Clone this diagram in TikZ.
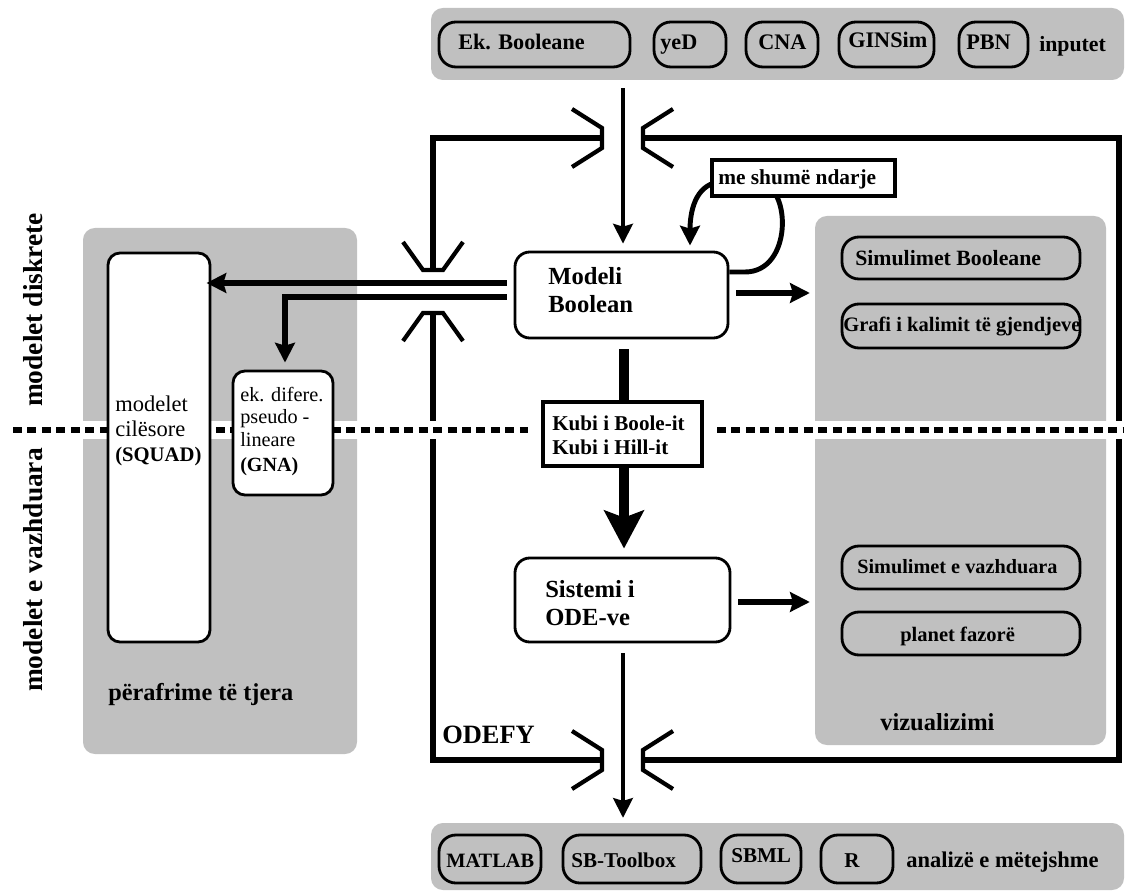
\documentclass[tikz,border=0pt]{standalone}
\usepackage{fontspec}
\setmainfont{Liberation Serif}
\usetikzlibrary{arrows.meta,fit}
\definecolor{panelgray}{RGB}{192,192,192}
\newcommand\fz[1]{\fontsize{#1}{#1}\selectfont}

\begin{document}
\begin{tikzpicture}[x=0.025cm,y=-0.025cm,
  panel/.style={fill=panelgray, draw=none, rounded corners=8.5pt, inner sep=0pt},
  pill/.style={draw=black, line width=2pt, rounded corners=12pt, inner sep=0pt},
  box/.style={draw=black, fill=white, line width=2pt, rounded corners=10.5pt, inner sep=0pt},
  smallbox/.style={box, rounded corners=8.5pt},
  sqbox/.style={draw=black, fill=white, line width=2.3pt, inner sep=0pt},
  txt/.style={inner sep=0pt, anchor=base west, font=\bfseries},
  rtxt/.style={inner sep=0pt, anchor=base west},
  frameline/.style={line width=4.6pt, line join=miter},
  bracket/.style={line width=3pt, line join=miter},
  tip/.tip={Stealth[length=14pt,width=14pt,inset=2pt]},
  bigtip/.tip={Stealth[length=27pt,width=28pt,inset=5pt]},
  thinarrow/.style={line width=2.6pt, -tip},
  midarrow/.style={line width=3.8pt, -tip},
  heavy/.style={line width=7.8pt},
]
\useasboundingbox (0,0) rectangle (1126,892);
\fill[white] (0,0) rectangle (1126,892);

% helper coordinates
\coordinate (cx) at (623,0);
\coordinate (cx2) at (624,0);
\coordinate (y283) at (0,283);
\coordinate (y297) at (0,297);
\coordinate (y293) at (0,293);
\coordinate (y602) at (0,602);
\coordinate (gx) at (285,0);
\coordinate (ly) at (0,272);
\coordinate (lx) at (690,0);

% grey panels
\node[panel, fit={(431,8) (1124,80)}] (tp) {};
\node[panel, fit={(431,823) (1124,890)}] (bp) {};
\node[panel, fit={(83,228) (357,754)}] (lp) {};
\node[panel, fit={(815,216) (1106,745)}] (rp) {};

% ODEFY frame
\draw[frameline] (602,138) -- (433,138) -- (433,270);
\draw[frameline] (433,313) -- (433,760) -- (602,760);
\draw[frameline] (643,760) -- (1119,760) -- (1119,138) -- (643,138);
% crossings
\draw[bracket] (572,109) -- (602,128) -- (602,148) -- (572,167);
\draw[bracket] (673,109) -- (643,128) -- (643,148) -- (673,167);
\draw[bracket] (572,731) -- (602,750) -- (602,770) -- (572,789);
\draw[bracket] (673,731) -- (643,750) -- (643,770) -- (673,789);
\draw[bracket] (403,242) -- (423,270) -- (443,270) -- (463,242);
\draw[bracket] (403,341) -- (423,313) -- (443,313) -- (463,341);

% discrete / continuous divider
\fill[white] (0,421) rectangle (1126,439);
\draw[line width=3.9pt, dash pattern=on 6.4pt off 3.9pt] (13,430) -- (528,430);
\draw[line width=3.9pt, dash pattern=on 6.4pt off 3.9pt] (717,430) -- (1124,430);

% input pills
\node[pill, fit={(439,22) (630,67)}] (p1) {};
\node[pill, fit={(654,22) (726,67)}] (p2) {};
\node[pill, fit={(746,22) (818,67)}] (p3) {};
\node[pill, fit={(839,22) (934,67)}] (p4) {};
\node[pill, fit={(959,22) (1028,67)}] (p5) {};
% output pills
\node[pill, fit={(439,835) (541,883)}] (q1) {};
\node[pill, fit={(563,835) (701,883)}] (q2) {};
\node[pill, fit={(721,835) (801,883)}] (q3) {};
\node[pill, fit={(821,835) (893,883)}] (q4) {};
% visualisation pills
\node[pill, fit={(842,237) (1080,279)}] (r1) {};
\node[pill, fit={(842,304) (1080,348)}] (r2) {};
\node[pill, fit={(842,546) (1080,589)}] (r3) {};
\node[pill, fit={(842,612) (1080,655)}] (r4) {};

% model boxes
\node[box, fit={(515,252) (728,338)}] (mb) {};
\node[box, fit={(515,558) (730,642)}] (sis) {};
\node[smallbox, fit={(108,253) (210,642)}] (sq) {};
\node[smallbox, fit={(233,371) (333,495)}] (gna) {};
\node[sqbox, fit={(543,402) (702,466)}] (kb) {};

% connectors
\draw[thinarrow, shorten <=5.7pt, shorten >=5pt] (tp.south -| cx) -- (mb.north -| cx);
\draw[thinarrow, shorten <=7pt, shorten >=3.5pt] (sis.south -| cx) -- (bp.north -| cx);
\draw[midarrow, shorten <=5pt, shorten >=3.5pt] (mb.east |- y293) -- (rp.west |- y293);
\draw[midarrow, shorten <=5pt, shorten >=3.5pt] (sis.east |- y602) -- (rp.west |- y602);
\draw[midarrow, shorten <=5pt, shorten >=-3.5pt] (mb.west |- y283) -- (sq.east |- y283);
\draw[midarrow, line join=miter, shorten <=5pt, shorten >=5pt] (mb.west |- y297) -| (gna.north -| gx);
\draw[heavy, shorten <=7pt] (mb.south -| cx2) -- (kb.north -| cx2);
\draw[heavy, -bigtip, shorten >=5.7pt] (kb.south -| cx2) -- (sis.north -| cx2);

% self loop of the Boolean model
\draw[line width=3.5pt, -tip, shorten >=3.6pt] (mb.east |- ly) -- (745,272)
  .. controls (792,272) and (792,188) .. (760,182) -- (718,182)
  .. controls (695,186) and (690,212) .. (mb.north -| lx);
\node[sqbox, line width=2.2pt, fit={(712,160) (895,196)}] (lab) {};

% texts
\node[txt, font=\bfseries\fz{15.8}] (t1) at (458,50) {Ek. Booleane};
\node[txt, font=\bfseries\fz{15.8}] (t2) at (660,50) {yeD};
\node[txt, font=\bfseries\fz{15.8}] (t3) at (758,50) {CNA};
\node[txt, font=\bfseries\fz{15.8}] (t4) at (848,48) {GINSim};
\node[txt, font=\bfseries\fz{15.8}] (t5) at (966,50) {PBN};
\node[txt, font=\bfseries\fz{15.5}] (t6) at (1039,52) {inputet};

\node[txt, font=\bfseries\fz{14.5}] (u1) at (446,867) {MATLAB};
\node[txt, font=\bfseries\fz{15}] (u2) at (571,867) {SB-Toolbox};
\node[txt, font=\bfseries\fz{15}] (u3) at (731,862) {SBML};
\node[txt, font=\bfseries\fz{15}] (u4) at (844,867) {R};
\node[txt, font=\bfseries\fz{16}] (u5) at (906,867) {analizë e mëtejshme};

\node[txt, font=\bfseries\fz{15.5}] (v1) at (855,266) {Simulimet Booleane};
\node[txt, font=\bfseries\fz{14.6}] (v2) at (843,332) {Grafi i kalimit të gjendjeve};
\node[txt, font=\bfseries\fz{14.4}] (v3) at (857,573) {Simulimet e vazhduara};
\node[txt, font=\bfseries\fz{14.6}] (v4) at (900,641) {planet fazorë};
\node[txt, font=\bfseries\fz{17.4}] (v5) at (880,730) {vizualizimi};

\node[rtxt, font=\fz{16}] (s1) at (115,411) {modelet};
\node[rtxt, font=\fz{16}] (s2) at (115,436) {cilësore};
\node[txt, font=\bfseries\fz{14.7}] (s3) at (115,461) {(SQUAD)};
\node[rtxt, font=\fz{14.4}] (g1) at (240,402) {ek. difere.};
\node[rtxt, font=\fz{14.4}] (g2) at (240,424) {pseudo -};
\node[rtxt, font=\fz{14.4}] (g3) at (240,447) {lineare};
\node[txt, font=\bfseries\fz{14.3}] (g4) at (240,471) {(GNA)};
\node[txt, font=\bfseries\fz{17.3}] (pt) at (108,700) {përafrime të tjera};

\node[txt, font=\bfseries\fz{17.5}] (m1) at (548,285) {Modeli};
\node[txt, font=\bfseries\fz{17.5}] (m2) at (548,313) {Boolean};
\node[txt, font=\bfseries\fz{15}] (k1) at (552,431) {Kubi i Boole-it};
\node[txt, font=\bfseries\fz{15}] (k2) at (552,454) {Kubi i Hill-it};
\node[txt, font=\bfseries\fz{17.5}] (o1) at (545,597) {Sistemi i};
\node[txt, font=\bfseries\fz{17.5}] (o2) at (545,625) {ODE-ve};
\node[txt, font=\bfseries\fz{15.2}] (lt) at (718,185) {me shumë ndarje};
\node[txt, font=\bfseries\fz{18.8}] (od) at (442,743) {ODEFY};

\node[inner sep=0pt, rotate=90, font=\bfseries\fz{19.5}] (vd) at (33,310) {modelet diskrete};
\node[inner sep=0pt, rotate=90, font=\bfseries\fz{19.5}] (vc) at (33,570) {modelet e vazhduara};
\end{tikzpicture}
\end{document}
